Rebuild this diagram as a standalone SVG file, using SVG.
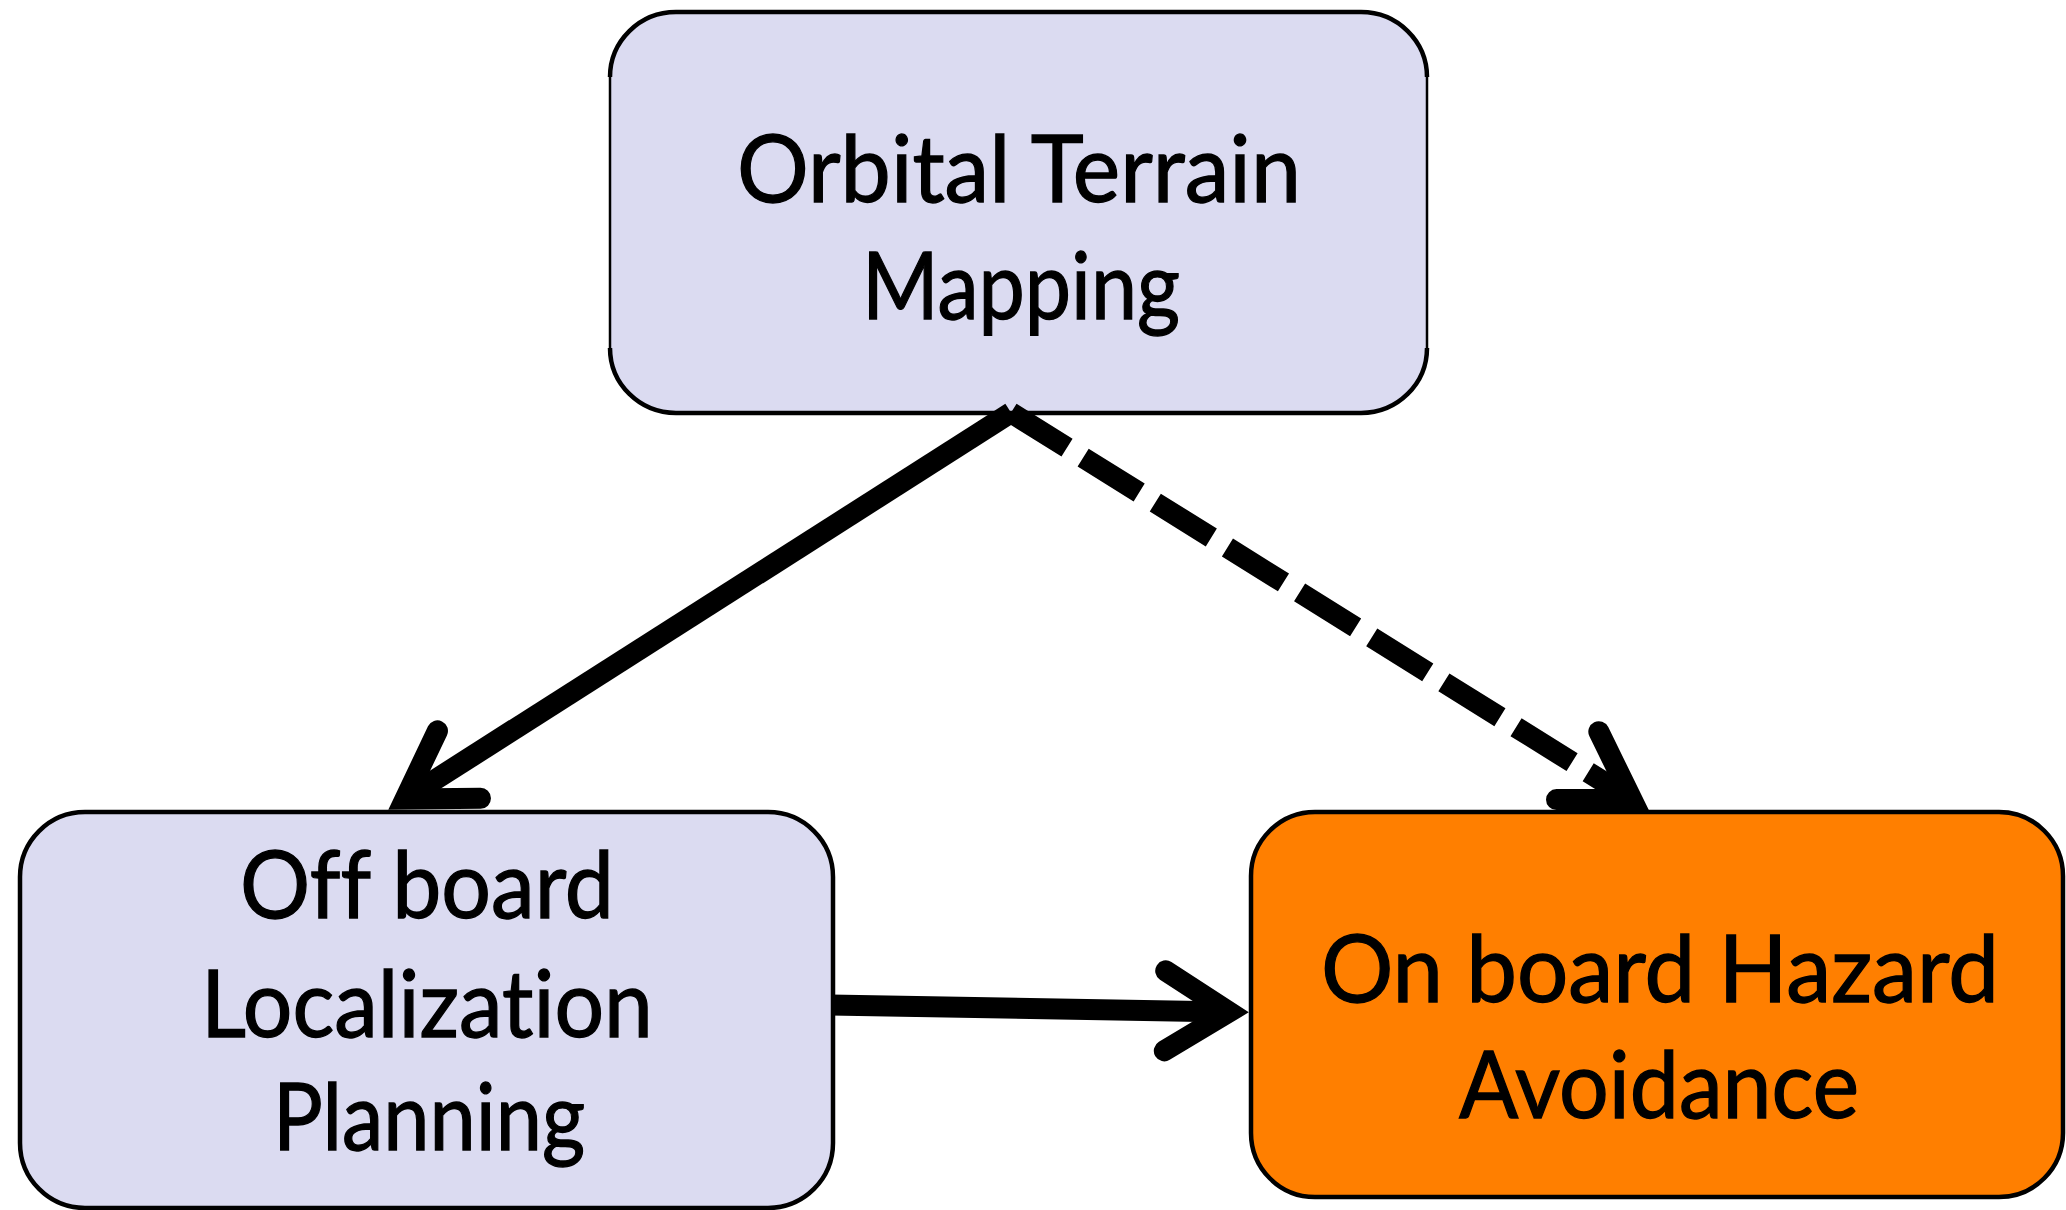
<svg xmlns="http://www.w3.org/2000/svg" width="2066" height="1210" viewBox="0 0 2066 1210">
  <style>
    .box { stroke: #000; stroke-width: 4.5; }
    .thin { stroke-width: 2.5; }
    .edge { fill: none; stroke: #000; stroke-width: 4.5; }
    .lav { fill: #DBDBF1; }
    .org { fill: #FF7F00; }
    .lbl { font-family: Lato, "Liberation Sans", "DejaVu Sans", sans-serif; font-size: 93px; fill: #000; stroke: #000; stroke-width: 1.3; text-anchor: middle; font-variant-ligatures: none; font-feature-settings: "liga" 0, "clig" 0; }
    .conn { fill: none; stroke: #000; stroke-width: 21; stroke-linecap: butt; marker-end: url(#ah); }
    .dash { stroke-dasharray: 66 19; }
  </style>
  <defs>
    <marker id="ah" markerUnits="userSpaceOnUse" orient="auto" refX="0" refY="0" markerWidth="1" markerHeight="1" overflow="visible">
      <path d="M-64,-40 L0,0 L-64,40" fill="none" stroke="#000" stroke-width="21" stroke-linecap="round" stroke-linejoin="miter" stroke-miterlimit="10" stroke-dasharray="none"/>
    </marker>
  </defs>
  <rect width="2066" height="1210" fill="#fff"/>

  <g id="node-orbital">
    <rect class="box thin lav" x="610" y="12" width="817" height="401" rx="66" ry="65"/>
    <path class="edge" d="M610,77 A66,65 0 0 1 676,12 L1361,12 A66,65 0 0 1 1427,77 M1427,348 A66,65 0 0 1 1361,413 L676,413 A66,65 0 0 1 610,348"/>
    <text class="lbl" x="1019" y="202" textLength="564" lengthAdjust="spacingAndGlyphs">Orbital Terrain</text>
    <text class="lbl" x="1021" y="319" textLength="318" lengthAdjust="spacingAndGlyphs">Mapping</text>
  </g>

  <g id="connectors">
    <path id="c-orbital-offboard" class="conn" d="M1011,412.7 L405,799"/>
    <path id="c-orbital-onboard" class="conn dash" d="M1011,412.7 L1632,799.5"/>
    <path id="c-offboard-onboard" class="conn" d="M830,1005 L1229,1012"/>
  </g>

  <g id="node-offboard">
    <rect class="box lav" x="20" y="812" width="813" height="396" rx="65" ry="65"/>
    <text class="lbl" x="427" y="918" textLength="374" lengthAdjust="spacingAndGlyphs">Off board</text>
    <text class="lbl" x="427" y="1037" textLength="452" lengthAdjust="spacingAndGlyphs">Localization</text>
    <text class="lbl" x="429" y="1150" textLength="312" lengthAdjust="spacingAndGlyphs">Planning</text>
  </g>

  <g id="node-onboard">
    <rect class="box org" x="1251" y="812" width="812" height="385" rx="64" ry="64"/>
    <text class="lbl" x="1660" y="1002" textLength="678" lengthAdjust="spacingAndGlyphs">On board Hazard</text>
    <text class="lbl" x="1659" y="1118" textLength="400" lengthAdjust="spacingAndGlyphs">Avoidance</text>
  </g>
</svg>
